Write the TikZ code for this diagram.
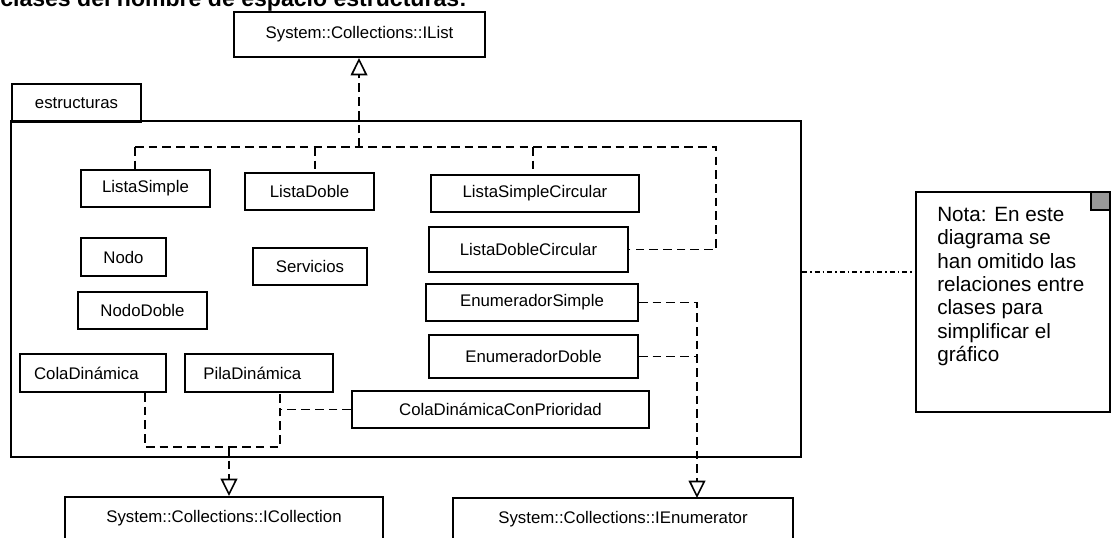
\documentclass[tikz,border=0pt]{standalone}
\usepackage{fontspec}
\setmainfont{Liberation Sans}
\usetikzlibrary{arrows.meta}
\begin{document}
\begin{tikzpicture}[x=0.75pt,y=-0.75pt]
	% Styles
	\tikzset{clase/.style={draw, line width=1.5pt, inner sep=2pt, font=\fontsize{12.6}{15}\selectfont},
		rel/.style={line width=1.4pt, dash pattern=on 6.5pt off 3.8pt},
		hereda/.style={rel, -{Triangle[open, length=13pt, width=12.5pt, line width=1.2pt]}},
		notalinea/.style={line width=1.2pt, dash pattern=on 3.8pt off 2.2pt on 1.2pt off 2.2pt}}
	\useasboundingbox (0,0) rectangle (1116,537);
	
	% Heading (cut off at the top)
	\node[anchor=base west, inner sep=0pt, font=\fontsize{17.3}{20}\bfseries] (titulo) at (0,6) {clases del nombre de espacio estructuras:};
	
	% Package
	\node[clase, minimum width=96.75pt, minimum height=28.5pt] (pestana) at (76.5,103) {estructuras};
	\node[clase, minimum width=592.5pt, minimum height=252pt] (paquete) at (406,289) {};
	
	% Interfaces
	\node[clase, minimum width=188.25pt, minimum height=33.75pt] (ilist) at (359.5,34.5) {System::Collections::IList};
	\node[clase, minimum width=238.5pt, minimum height=32.25pt] (icol) at (224,518.5) {System::Collections::ICollection};
	\node[clase, minimum width=255pt, minimum height=31.5pt] (ienum) at (623,519) {System::Collections::IEnumerator};
	
	% Classes
	\node[clase, minimum width=96.75pt, minimum height=27.75pt] (lsimple) at (145.5,188.5) {ListaSimple};
	\node[clase, minimum width=96.75pt, minimum height=27.75pt] (ldoble) at (309.5,191.5) {ListaDoble};
	\node[clase, minimum width=156pt, minimum height=27.75pt] (lscirc) at (535,193.5) {ListaSimpleCircular};
	\node[clase, minimum width=149.25pt, minimum height=33.75pt] (ldcirc) at (528.5,249.5) {ListaDobleCircular};
	\node[clase, minimum width=159pt, minimum height=27.75pt] (esimple) at (532,302.5) {EnumeradorSimple};
	\node[clase, minimum width=156.75pt, minimum height=32.25pt] (edoble) at (533.5,356.5) {EnumeradorDoble};
	\node[clase, minimum width=63.75pt, minimum height=28.5pt] (nodo) at (123.5,257) {Nodo};
	\node[clase, minimum width=85.5pt, minimum height=27.75pt] (servicios) at (310,266.5) {Servicios};
	\node[clase, minimum width=96.75pt, minimum height=27.75pt] (ndoble) at (142.5,310.5) {NodoDoble};
	\node[clase, minimum width=109.5pt, minimum height=28.5pt] (cdin) at (93,373) {ColaDinámica\hspace*{10pt}};
	\node[clase, minimum width=111pt, minimum height=28.5pt] (pdin) at (259,373) {PilaDinámica\hspace*{10pt}};
	\node[clase, minimum width=222.75pt, minimum height=27.75pt] (cdcp) at (500.5,409.5) {ColaDinámicaConPrioridad};
	
	% Note
	\node[clase, minimum width=145.5pt, minimum height=165pt] (nota) at (1013,302) {};
	\node[clase, fill=black!40, minimum width=14.25pt, minimum height=13.5pt] (esquina) at (1100.5,201) {};
	\node[anchor=north west, inner sep=0pt, align=left, font=\fontsize{15.5}{17.5}\selectfont] (notatexto) at (937,207)
		{Nota: En este\\diagrama se\\han omitido las\\relaciones entre\\clases para\\simplificar el\\gráfico};
	\coordinate (nl) at (916,272);
	\draw[notalinea] (nl -| paquete.east) -- (nl);
	
	% Realizations of IList
	\coordinate (jil) at (359,147);
	\coordinate (jls) at (135,147);
	\coordinate (jld) at (315,147);
	\coordinate (jlsc) at (533,147);
	\coordinate (jldc) at (716,147);
	\draw[hereda] (jil) -- (ilist.south -| jil);
	\draw[rel] (jls) -- (jldc) |- (ldcirc.east);
	\draw[rel] (jls) -- (lsimple.north -| jls);
	\draw[rel] (jld) -- (ldoble.north -| jld);
	\draw[rel] (jlsc) -- (lscirc.north -| jlsc);
	
	% Realizations of IEnumerator
	\coordinate (jen) at (697,498);
	\draw[hereda] (esimple.east) -| (jen);
	\draw[rel] (edoble.east) -- (edoble.east -| jen);
	
	% Realizations of ICollection
	\coordinate (jcd) at (145,447);
	\coordinate (jpd) at (280,447);
	\coordinate (jco) at (229,447);
	\draw[rel] (cdin.south -| jcd) -- (jcd) -- (jpd) -- (pdin.south -| jpd);
	\draw[rel] (cdcp.west) -- (cdcp.west -| jpd);
	\draw[hereda] (jco) -- (icol.north -| jco);
\end{tikzpicture}
\end{document}
